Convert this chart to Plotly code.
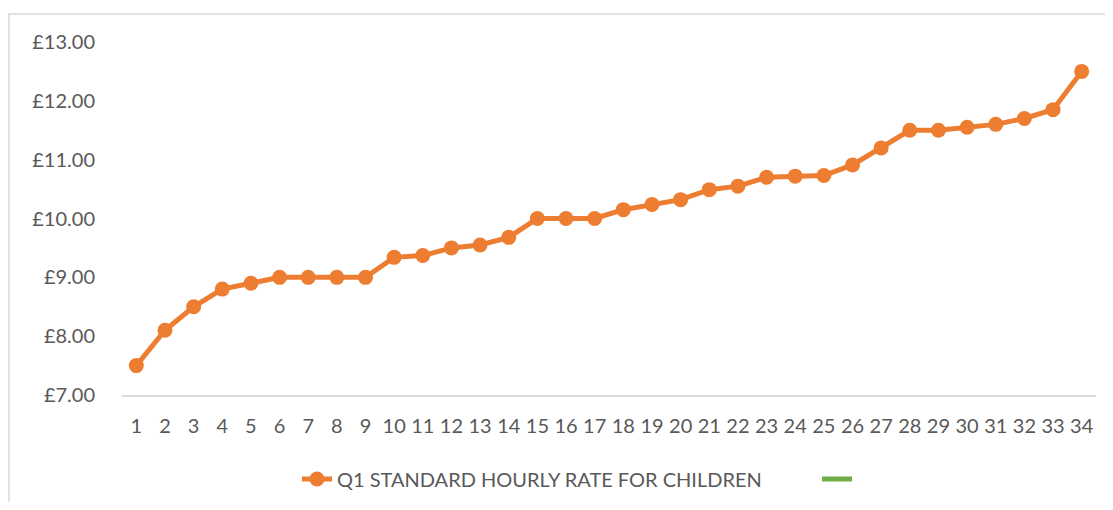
import plotly.graph_objects as go

providers = list(range(1, 35))
rates = [7.50, 8.10, 8.50, 8.80, 8.90, 9.00, 9.00, 9.00, 9.00, 9.34,
         9.37, 9.50, 9.55, 9.68, 10.00, 10.00, 10.00, 10.15, 10.24, 10.32,
         10.49, 10.55, 10.70, 10.72, 10.73, 10.91, 11.20, 11.50, 11.50, 11.55,
         11.60, 11.70, 11.85, 12.50]
series_name = "Q1 STANDARD HOURLY RATE FOR CHILDREN"
y_ticks = [7, 8, 9, 10, 11, 12, 13]
y_tick_labels = ["£7.00", "£8.00", "£9.00", "£10.00", "£11.00", "£12.00", "£13.00"]

FONT = "Lato, 'Open Sans', sans-serif"
GREY = "#595959"

# page offset of 8px (html body margin)
W, H = 1097, 494
L, T = 114, 34
PW, PH = 974, 353

fig = go.Figure()
fig.add_trace(go.Scatter(
    x=providers, y=rates, mode="lines+markers", name=series_name,
    line=dict(color="#ED7D31", width=5),
    marker=dict(color="#ED7D31", size=15),
    legend="legend",
))
fig.add_trace(go.Scatter(
    x=[None], y=[None], mode="lines", name=" ",
    line=dict(color="#70AD47", width=5),
    legend="legend2",
))

legend_common = dict(orientation="h", xanchor="left", y=-0.238, yanchor="middle",
                     font=dict(family=FONT, size=20, color=GREY),
                     bgcolor="rgba(0,0,0,0)")

fig.update_layout(
    width=W, height=H,
    margin=dict(l=L, r=W - L - PW, t=T, b=H - T - PH, autoexpand=False),
    paper_bgcolor="white", plot_bgcolor="white",
    font=dict(family=FONT, size=20, color=GREY),
    showlegend=True,
    legend=dict(x=(297 - 122) / PW, **legend_common),
    legend2=dict(x=(817 - 122) / PW, **legend_common),
    xaxis=dict(range=[0.5, 34.5], tickmode="array", tickvals=providers,
               ticktext=[str(p) for p in providers], showgrid=False, zeroline=False,
               showline=True, linecolor="#D9D9D9", linewidth=1.5, ticks="",
               ticklabelstandoff=12, tickangle=0),
    yaxis=dict(range=[7, 13], tickmode="array", tickvals=y_ticks, ticktext=y_tick_labels,
               showgrid=False, zeroline=False, showline=False, ticks="",
               ticklabelstandoff=26),
    shapes=[dict(type="rect", xref="paper", yref="paper",
                 x0=(9 - 122) / PW, x1=(1160 - 122) / PW,
                 y0=(395 - 530) / PH, y1=(395 - 14) / PH,
                 line=dict(color="#D9D9D9", width=1.5), fillcolor="rgba(0,0,0,0)",
                 layer="below")],
)

fig.write_html("out.html")
